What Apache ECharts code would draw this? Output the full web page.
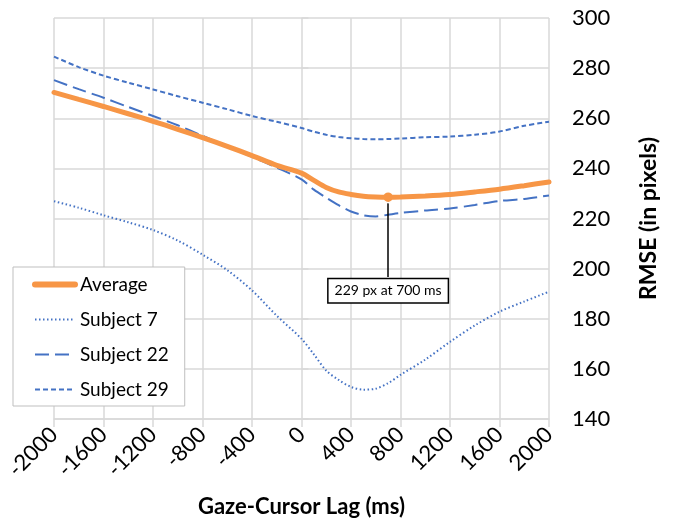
<!DOCTYPE html>
<html>
<head>
<meta charset="utf-8">
<script src="https://cdn.jsdelivr.net/npm/echarts@6/dist/echarts.min.js"></script>
<style>
  html, body { margin: 0; padding: 0; background: #fff; }
  #chart { width: 673px; height: 519px; }
</style>
</head>
<body>
<div id="chart"></div>
<script>
// lag values (ms)
var lags = [-2000, -1800, -1600, -1400, -1200, -1000, -800, -600, -400, -200, 0, 100, 200, 300, 400, 500, 600, 700, 800, 1000, 1200, 1400, 1600, 1800, 2000];

// RMSE (in pixels)
var average   = [270.3, 267.5, 264.7, 261.8, 258.8, 255.6, 252.3, 248.8, 245.1, 241.2, 238.1, 235.2, 232.4, 230.6, 229.6, 228.9, 228.6, 228.5, 228.6, 229.0, 229.6, 230.6, 231.7, 233.1, 234.6];
var subject7  = [226.9, 224.3, 221.3, 218.5, 215.4, 211.2, 205.6, 199.4, 191.3, 181.2, 172.0, 165.8, 159.3, 155.6, 152.8, 151.7, 152.1, 154.3, 157.6, 163.7, 170.8, 177.3, 182.8, 186.9, 190.8];
var subject22 = [275.2, 271.6, 268.2, 264.5, 260.9, 257.2, 253.0, 248.8, 244.6, 240.3, 235.6, 231.5, 228.3, 225.3, 222.8, 221.3, 220.8, 221.5, 222.2, 223.2, 224.0, 225.4, 227.0, 227.8, 229.2];
var subject29 = [284.6, 280.4, 277.0, 274.2, 271.5, 268.8, 266.2, 263.6, 260.9, 258.6, 256.1, 254.6, 253.4, 252.5, 252.0, 251.7, 251.6, 251.7, 251.9, 252.4, 252.7, 253.4, 254.7, 257.0, 258.6];

// annotated minimum
var minLag = 700;
var minVal = 228.5;
var minText = '229 px at 700 ms';
var boxVal = 191.2;   // where the callout box sits
var boxTop = 196.7;

function pairs(ys) {
  return lags.map(function (x, i) { return [x, ys[i]]; });
}

var blue = '#4472C4';
var orange = '#F79646';
var gridColor = '#d9d9d9';
var font = 'Lato';

var chart = echarts.init(document.getElementById('chart'));

chart.setOption({
  animation: false,
  textStyle: { fontFamily: font, color: '#000' },
  grid: { left: 54, right: 124, top: 18, bottom: 100, containLabel: false, outerBoundsMode: 'none' },
  legend: {
    orient: 'vertical',
    left: 13,
    top: 267,
    padding: [8, 16, 7, 19],
    itemWidth: 40,
    itemHeight: 12,
    itemGap: 16,
    backgroundColor: '#fff',
    borderColor: '#bfbfbf',
    borderWidth: 1,
    itemStyle: { opacity: 0 },
    textStyle: { fontSize: 19, color: '#000', fontFamily: font },
    data: [
      { name: 'Average', lineStyle: { width: 6, cap: 'round' } },
      'Subject 7', 'Subject 22', 'Subject 29'
    ]
  },
  xAxis: {
    type: 'value',
    min: -2000,
    max: 2000,
    interval: 400,
    name: 'Gaze-Cursor Lag (ms)',
    nameLocation: 'middle',
    nameGap: 77,
    nameTextStyle: { fontSize: 22, fontWeight: 'bold', color: '#000' },
    axisLine: { show: true, lineStyle: { color: gridColor, width: 1.5 } },
    axisTick: { show: true, length: 8, lineStyle: { color: gridColor, width: 1.5 } },
    splitLine: { show: true, lineStyle: { color: gridColor, width: 1.5 } },
    axisLabel: { rotate: 45, fontSize: 22, color: '#000', margin: 12, formatter: function (v) { return String(v); } }
  },
  yAxis: {
    type: 'value',
    position: 'right',
    min: 140,
    max: 300,
    interval: 20,
    name: 'RMSE (in pixels)',
    nameLocation: 'middle',
    nameRotate: 90,
    nameGap: 88,
    nameTextStyle: { fontSize: 23, fontWeight: 'bold', color: '#000' },
    axisLine: { show: false },
    axisTick: { show: true, length: 7, lineStyle: { color: gridColor, width: 1.5 } },
    splitLine: { show: true, lineStyle: { color: gridColor, width: 1.5 } },
    axisLabel: { fontSize: 22, color: '#000', margin: 23 }
  },
  series: [
    {
      name: 'Subject 29',
      type: 'line',
      symbol: 'none',
      smooth: 0.3,
      data: pairs(subject29),
      lineStyle: { color: blue, width: 2, type: [5, 3] },
      itemStyle: { color: blue }
    },
    {
      name: 'Subject 22',
      type: 'line',
      symbol: 'none',
      smooth: 0.3,
      data: pairs(subject22),
      lineStyle: { color: blue, width: 2, type: [14, 6] },
      itemStyle: { color: blue }
    },
    {
      name: 'Subject 7',
      type: 'line',
      symbol: 'none',
      smooth: 0.3,
      data: pairs(subject7),
      lineStyle: { color: blue, width: 2, type: [1.5, 2.5] },
      itemStyle: { color: blue }
    },
    {
      name: 'Average',
      type: 'line',
      symbol: 'none',
      smooth: 0.3,
      z: 5,
      data: pairs(average),
      lineStyle: { color: orange, width: 5, cap: 'round' },
      itemStyle: { color: orange },
      markLine: {
        silent: true,
        symbol: 'none',
        label: { show: false },
        lineStyle: { color: '#000', width: 1.5, type: 'solid' },
        data: [[{ coord: [minLag, minVal] }, { coord: [minLag, boxTop] }]]
      },
      markPoint: {
        silent: true,
        data: [
          {
            coord: [minLag, boxVal],
            symbol: 'circle',
            symbolSize: 0,
            label: {
              show: true, position: 'inside', formatter: minText, fontSize: 14, color: '#000', fontFamily: font,
              backgroundColor: '#fff', borderColor: '#000', borderWidth: 1.5, padding: [5, 6, 4, 6]
            }
          },
          {
            coord: [minLag, minVal],
            symbol: 'circle',
            symbolSize: 11,
            itemStyle: { color: orange, borderColor: '#fff', borderWidth: 1.5 },
            label: { show: false }
          }
        ]
      }
    }
  ]
});
</script>
</body>
</html>
